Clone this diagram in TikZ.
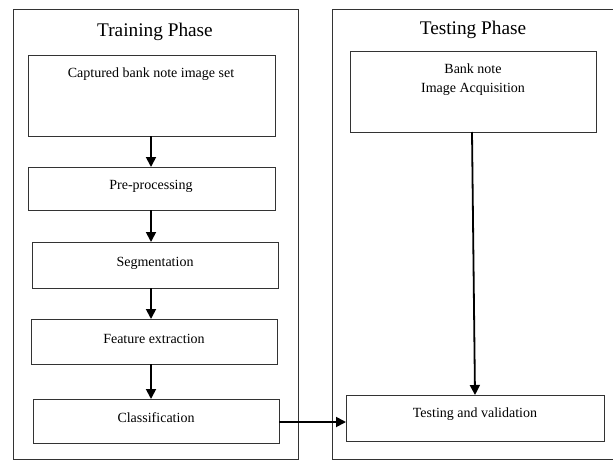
\documentclass[tikz,border=0pt]{standalone}
\usepackage{fontspec}
\setmainfont{Liberation Serif}
\usetikzlibrary{arrows.meta}
\begin{document}
\begin{tikzpicture}[x=1pt,y=-1pt,
  frame/.style={draw=black!80,line width=0.9pt},
  stepbox/.style={draw=black!80,line width=0.9pt,inner sep=0pt},
  lbl/.style={font=\fontsize{14}{19}\selectfont,inner sep=0pt,anchor=center},
  ttl/.style={font=\fontsize{19.3}{22}\selectfont,inner sep=0pt,anchor=center},
  flow/.style={line width=1.8pt,-{Triangle[length=10pt,width=10pt]}}]
\useasboundingbox (0,0) rectangle (613,461);
% outer frames
\draw[frame] (13,9) rectangle (298,459);
\draw[frame] (332,9) rectangle (616,459);
\node[ttl] (t1) at (155,32) {Training Phase};
\node[ttl] (t2) at (473,30) {Testing Phase};
% training boxes
\draw[stepbox] (28,55) rectangle (275,136);
\coordinate (b1t) at (151,55); \coordinate (b1b) at (151,136);
\node[lbl] (l1) at (151,74) {Captured bank note image set};
\draw[stepbox] (28,167) rectangle (275,210);
\coordinate (b2t) at (151,167); \coordinate (b2b) at (151,210);
\node[lbl] (l2) at (151,186) {Pre-processing};
\draw[stepbox] (32,242) rectangle (278,288);
\coordinate (b3t) at (151,242); \coordinate (b3b) at (151,288);
\node[lbl] (l3) at (155,263) {Segmentation};
\draw[stepbox] (31,319) rectangle (277,364);
\coordinate (b4t) at (151,319); \coordinate (b4b) at (151,364);
\node[lbl] (l4) at (154,339) {Feature extraction};
\draw[stepbox] (33,399) rectangle (279,443);
\coordinate (b5t) at (151,399); \coordinate (b5r) at (279,422);
\node[lbl] (l5) at (156,418) {Classification};
% testing boxes
\draw[stepbox] (350,51) rectangle (596,132);
\coordinate (c1b) at (472,132);
\node[lbl,align=center] (m1) at (473,80) {Bank note\\Image Acquisition};
\draw[stepbox] (346,395) rectangle (604,441);
\coordinate (c2t) at (475,395); \coordinate (c2l) at (346,422);
\node[lbl] (m2) at (475,414) {Testing and validation};
% arrows
\draw[flow] (b1b) -- (b2t);
\draw[flow] (b2b) -- (b3t);
\draw[flow] (b3b) -- (b4t);
\draw[flow] (b4b) -- (b5t);
\draw[flow] (b5r) -- (c2l);
\draw[flow] (c1b) -- (c2t);
\end{tikzpicture}
\end{document}
